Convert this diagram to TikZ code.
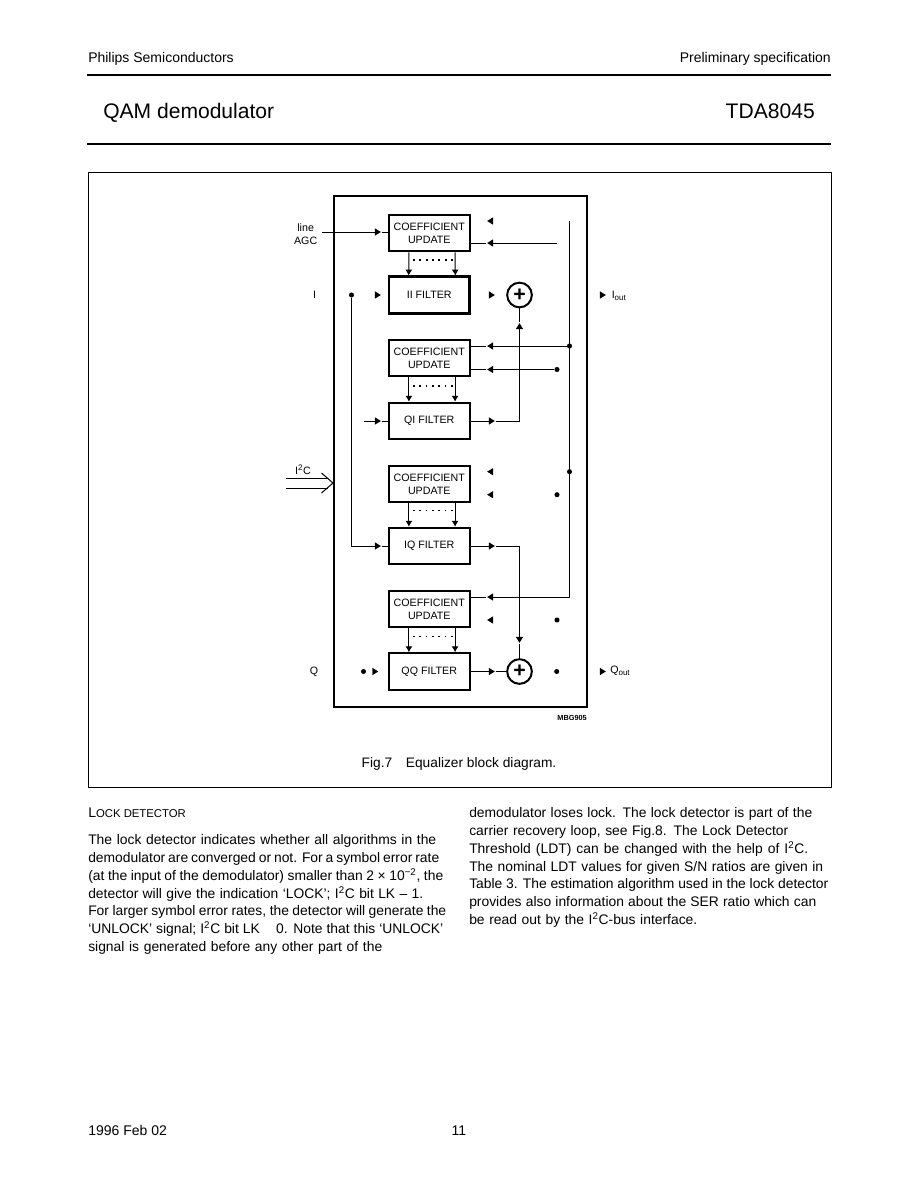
\documentclass[tikz,border=0pt]{standalone}
\usepackage{fontspec}
\setmainfont{Liberation Sans}
\usetikzlibrary{calc,shapes.geometric,arrows.meta}

\newcommand{\bodyline}[2]{\makebox[#1pt][s]{#2}}

\begin{document}
\begin{tikzpicture}[x=0.75pt,y=-0.75pt]

\tikzset{
  pagetext/.style={font=\fontsize{10.5}{13.25}\selectfont, align=left, inner sep=0pt},
  bodytext/.style={font=\fontsize{10.4}{13.3}\selectfont, align=left, inner sep=0pt},
  blocklabel/.style={font=\fontsize{8}{10}\selectfont, align=center, inner sep=0pt},
  filterbox/.style={rectangle, draw=black, line width=1.5pt, fill=white,
                  font=\fontsize{8}{9.6}\selectfont, align=center,
                  minimum width=60.5pt, minimum height=27.5pt, inner sep=0pt},
  adder/.style={circle, draw=black, line width=1.5pt, fill=white,
                  minimum size=18.5pt, inner sep=0pt, font=\fontsize{16}{16}\selectfont\bfseries},
  wire/.style={black, line width=0.75pt},
  taps/.style={black, line width=1.5pt, dash pattern=on 1.5pt off 3.25pt},
  tapsthin/.style={black, line width=0.9pt, dash pattern=on 1.2pt off 3.55pt},
  dotmark/.style={circle, fill=black, minimum size=3.8pt, inner sep=0pt},
  headmark/.style={isosceles triangle, isosceles triangle stretches, fill=black,
                  minimum width=5.4pt, minimum height=4.4pt, inner sep=0pt},
  headr/.style={headmark},
  headl/.style={headmark, shape border rotate=180},
  headu/.style={headmark, shape border rotate=90},
  headd/.style={headmark, shape border rotate=270}
}

\useasboundingbox (0,0) rectangle (913,1189);

% Page header
\node[pagetext, anchor=base west] (company) at (88,62.5) {Philips Semiconductors};
\node[pagetext, anchor=base east] (status) at (831,62.5) {Preliminary specification};
\coordinate (ruleal) at (87,75);
\coordinate (ruleah) at (831,75);
\draw[line width=0.8pt] (ruleal) -- (ruleah);
\node[anchor=base west, inner sep=0pt, font=\fontsize{15.8}{18}\selectfont] (device) at (103,118) {QAM demodulator};
\node[anchor=base east, inner sep=0pt, font=\fontsize{15.8}{18}\selectfont] (type) at (815,118) {TDA8045};
\coordinate (rulebl) at (87,144);
\coordinate (rulebh) at (831,144);
\draw[line width=1.2pt] (rulebl) -- (rulebh);

% Figure frame and block
\draw[line width=0.7pt] (88,172) rectangle (831,787);
\draw[line width=2pt] (334,196) rectangle (587,707);

% Filters and coefficient blocks
\node[filterbox] (cua) at (429.25,233) {COEFFICIENT\\UPDATE};
\node[filterbox, line width=1.8pt] (iifilt) at (429.25,295) {II FILTER};
\node[filterbox] (cub) at (429.25,358) {COEFFICIENT\\UPDATE};
\node[filterbox] (qifilt) at (429.25,421) {QI FILTER};
\node[filterbox] (cuc) at (429.25,484) {COEFFICIENT\\UPDATE};
\node[filterbox] (iqfilt) at (429.25,546) {IQ FILTER};
\node[filterbox] (cud) at (429.25,609) {COEFFICIENT\\UPDATE};
\node[filterbox] (qqfilt) at (429.25,671.5) {QQ FILTER};

\node[adder] (sumi) at (519.5,295) {+};
\node[adder] (sumq) at (519.5,671.5) {+};

% Outside labels
\node[blocklabel, anchor=east] (agclabel) at (317.5,234.5) {line\\AGC};
\node[blocklabel] (ilabel) at (314.5,295) {I};
\node[blocklabel] (qlabel) at (314,672) {Q};
\node[blocklabel] (iclabel) at (303,470) {I\textsuperscript{2}C};
\node[blocklabel, anchor=west] (ioutlabel) at (611.5,296) {I\textsubscript{out}};
\node[blocklabel, anchor=west] (qoutlabel) at (610,671) {Q\textsubscript{out}};
\node[inner sep=0pt, anchor=east, font=\fontsize{5.5}{6}\selectfont\bfseries] (code) at (587,718) {MBG905};

% Junctions
\node[dotmark] (dotin) at (351.5,295) {};
\node[dotmark] (dotqin) at (363.5,671.5) {};
\node[dotmark] (dotqout) at (556.7,671.5) {};
\node[dotmark] (dotvb) at (569.5,346) {};
\node[dotmark] (dotvc) at (569.5,471.7) {};
\node[dotmark] (dotcub) at (557,369.5) {};
\node[dotmark] (dotcuc) at (557,494.7) {};
\node[dotmark] (dotcud) at (557,620) {};

% Heads on their own
\node[headl] (hcuatop) at (491,221) {};
\node[headr] (hiiin) at (377,295) {};
\node[headr] (hiiout) at (491,295) {};
\node[headr] (hiout) at (602,295) {};
\node[headl] (hcuctop) at (491,471.7) {};
\node[headl] (hcucbot) at (491,494.7) {};
\node[headl] (hcudbot) at (491,620) {};
\node[headr] (hqqin) at (374.5,671.5) {};
\node[headr] (hqout) at (602,671.5) {};

% Heads on wires
\node[headr] (hagc) at (377,232) {};
\node[headl] (hcuabot) at (491,243) {};
\node[headl] (hcubtop) at (491,346) {};
\node[headl] (hcubbot) at (491,369.5) {};
\node[headr] (hqiin) at (377,421) {};
\node[headr] (hqiout) at (491,421) {};
\node[headu] (hqiup) at (519.5,327) {};
\node[headr] (hiqin) at (377,546) {};
\node[headr] (hiqout) at (491,546) {};
\node[headd] (hiqdown) at (519.5,639) {};
\node[headl] (hcudtop) at (491,597) {};
\node[headr] (hqqout) at (491,671.5) {};

% Free ends
\coordinate (agcend) at (322,232);
\coordinate (qiend) at (364,421);
\coordinate (cuaend) at (557,243);
\coordinate (vtop) at (569.5,221);
\coordinate (vbot) at (569.5,597);
\coordinate (iqcorner) at (351.5,546);

% Wires
\draw[wire] (agcend) -- (hagc) -- (cua.west |- hagc);
\draw[wire] (cuaend) -- (hcuabot) -- (cua.east |- hcuabot);
\draw[wire] (vtop) -- (vbot) -- (hcudtop) -- (cud.east |- hcudtop);
\draw[wire] (dotvb) -- (hcubtop) -- (cub.east |- hcubtop);
\draw[wire] (dotcub) -- (hcubbot) -- (cub.east |- hcubbot);
\draw[wire] (dotin) -- (iqcorner) -- (hiqin) -- (iqfilt.west |- hiqin);
\draw[wire] (qiend) -- (hqiin) -- (qifilt.west |- hqiin);
\draw[wire] (qifilt.east |- hqiout) -- (hqiout) -- (sumi.south |- hqiout) -- (hqiup) -- (sumi.south);
\draw[wire] (iqfilt.east |- hiqout) -- (hiqout) -- (sumq.north |- hiqout) -- (hiqdown) -- (sumq.north);
\draw[wire] (qqfilt.east |- hqqout) -- (hqqout) -- (sumq.west);

% Coefficient taps
\foreach \cu/\filt/\tapstyle/\ytap in {cua/iifilt/taps/260, cub/qifilt/tapsthin/386, cuc/iqfilt/tapsthin/510.7, cud/qqfilt/tapsthin/636.7}{
  \draw[wire, -{Latex[length=4.4pt, width=5.4pt]}] ($(\cu.south west)+(21,0)$) -- ($(\filt.north west)+(21,0)$);
  \draw[wire, -{Latex[length=4.4pt, width=5.4pt]}] ($(\cu.south east)+(-15.5,0)$) -- ($(\filt.north east)+(-15.5,0)$);
  \draw[\tapstyle] (413,\ytap) -- (452.6,\ytap);
}

% I2C bus
\coordinate (busa) at (286,478);
\coordinate (busb) at (286,488);
\coordinate (busaend) at (328,478);
\coordinate (busbend) at (328,488);
\coordinate (chevt) at (321.5,473);
\coordinate (chevm) at (333,483);
\coordinate (chevb) at (321.5,493);
\draw[wire] (busa) -- (busaend);
\draw[wire] (busb) -- (busbend);
\draw[wire] (chevt) -- (chevm) -- (chevb);

% Caption
\node[pagetext, font=\fontsize{10.3}{13}\selectfont, anchor=base] (caption) at (459,767) {Fig.7\hspace{1em}Equalizer block diagram.};

% Body text
\node[pagetext, anchor=base west] (heading) at (88,817) {L{\fontsize{8.5}{10}\selectfont OCK DETECTOR}};
\node[bodytext, anchor=north west] (colone) at (88,834.5) {\bodyline{261}{The lock detector indicates whether all algorithms in the}\\
\bodyline{263.25}{demodulator are converged or not. For a symbol error rate}\\
\bodyline{266.25}{(at the input of the demodulator) smaller than 2 × 10\textsuperscript{−2}, the}\\
\bodyline{251.25}{detector will give the indication ‘LOCK’; I\textsuperscript{2}C bit LK – 1.}\\
\bodyline{268.5}{For larger symbol error rates, the detector will generate the}\\
\bodyline{266.25}{‘UNLOCK’ signal; I\textsuperscript{2}C bit LK \hspace{0.6em} 0. Note that this ‘UNLOCK’}\\
\bodyline{220.5}{signal is generated before any other part of the}};
\node[bodytext, anchor=north west] (coltwo) at (469,807.5) {\bodyline{257.25}{demodulator loses lock. The lock detector is part of the}\\
\bodyline{239.25}{carrier recovery loop, see Fig.8. The Lock Detector}\\
\bodyline{254.25}{Threshold (LDT) can be changed with the help of I\textsuperscript{2}C.}\\
\bodyline{265.5}{The nominal LDT values for given S/N ratios are given in}\\
\bodyline{269.25}{Table 3. The estimation algorithm used in the lock detector}\\
\bodyline{260.25}{provides also information about the SER ratio which can}\\
\bodyline{171}{be read out by the I\textsuperscript{2}C-bus interface.}};

% Footer
\node[pagetext, anchor=base west] (date) at (88,1135.5) {1996 Feb 02};
\node[pagetext, anchor=base] (pageno) at (459,1135.5) {11};

\end{tikzpicture}
\end{document}
